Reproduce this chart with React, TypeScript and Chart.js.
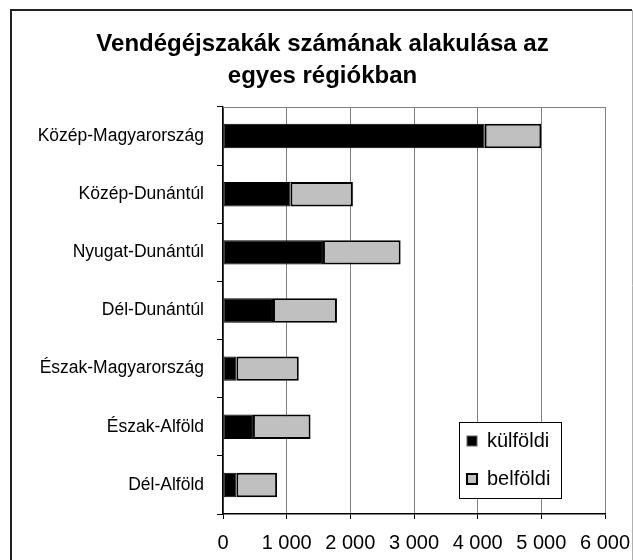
import React, { useEffect, useRef } from "react";
import { Chart, registerables } from "chart.js";

Chart.register(...registerables);

const titleLines = ["Vendégéjszakák számának alakulása az", "egyes régiókban"];
const regions = [
  "Közép-Magyarország",
  "Közép-Dunántúl",
  "Nyugat-Dunántúl",
  "Dél-Dunántúl",
  "Észak-Magyarország",
  "Észak-Alföld",
  "Dél-Alföld",
];
const kulfoldi = [4110, 1060, 1570, 785, 210, 470, 210];
const belfoldi = [890, 980, 1220, 1005, 980, 905, 640];
const seriesNames = ["külföldi", "belföldi"];
const xMin = 0;
const xMax = 6000;
const xStep = 1000;

const FONT = "Arial, 'Liberation Sans', sans-serif";

const fmt = (v: number) => {
  const s = String(Math.round(v));
  return s.replace(/\B(?=(\d{3})+(?!\d))/g, " ");
};

const framePlugin = {
  id: "frame",
  beforeDraw(chart: any) {
    const { ctx, width, height } = chart;
    ctx.save();
    ctx.fillStyle = "#fff";
    ctx.fillRect(0, 0, width, height);
    ctx.restore();
  },
  afterDraw(chart: any) {
    const { ctx, chartArea } = chart;
    ctx.save();
    // outer frame
    ctx.strokeStyle = "#222";
    ctx.lineWidth = 2;
    ctx.beginPath();
    ctx.moveTo(11, 600);
    ctx.lineTo(11, 10);
    ctx.lineTo(632, 10);
    ctx.stroke();
    ctx.strokeStyle = "#b0b0b0";
    ctx.lineWidth = 1;
    ctx.beginPath();
    ctx.moveTo(632.5, 10);
    ctx.lineTo(632.5, 600);
    ctx.stroke();
    // plot area top border
    ctx.strokeStyle = "#808080";
    ctx.lineWidth = 1;
    ctx.beginPath();
    ctx.moveTo(chartArea.left, Math.round(chartArea.top) + 0.5);
    ctx.lineTo(chartArea.right, Math.round(chartArea.top) + 0.5);
    ctx.stroke();

    // legend
    const bx = 459.5, by = 422.5, bw = 102, bh = 76;
    ctx.fillStyle = "#fff";
    ctx.fillRect(bx, by, bw, bh);
    ctx.strokeStyle = "#000";
    ctx.lineWidth = 1;
    ctx.strokeRect(bx, by, bw, bh);
    const ys = [441, 479];
    chart.data.datasets.forEach((ds: any, i: number) => {
      const cy = ys[i];
      ctx.fillStyle = ds.backgroundColor;
      ctx.fillRect(467, cy - 5, 10, 10);
      ctx.strokeStyle = i === 0 ? "#606060" : "#000";
      ctx.lineWidth = i === 0 ? 1 : 2;
      ctx.strokeRect(467, cy - 5, 10, 10);
      ctx.fillStyle = "#000";
      ctx.font = `20px ${FONT}`;
      ctx.textBaseline = "middle";
      ctx.textAlign = "left";
      ctx.fillText(ds.label, 487, cy);
    });
    ctx.restore();
  },
};

export default function App() {
  const ref = useRef<HTMLCanvasElement | null>(null);
  useEffect(() => {
    if (!ref.current) return;
    const chart = new Chart(ref.current, {
      type: "bar",
      data: {
        labels: regions,
        datasets: [
          {
            label: seriesNames[0],
            data: kulfoldi,
            backgroundColor: "#000000",
            borderColor: "#000000",
            borderWidth: 1,
            borderSkipped: false,
          },
          {
            label: seriesNames[1],
            data: belfoldi,
            backgroundColor: "#c0c0c0",
            borderColor: "#000000",
            borderWidth: 2,
            borderSkipped: false,
          },
        ],
      },
      options: {
        indexAxis: "y",
        responsive: false,
        animation: false,
        devicePixelRatio: 1,
        layout: { padding: { left: 12, right: 0, top: 0, bottom: 0 } },
        datasets: {
          bar: { categoryPercentage: 1, barPercentage: 0.42 },
        },
        plugins: {
          legend: { display: false },
          tooltip: { enabled: false },
          title: {
            display: true,
            text: titleLines,
            color: "#000",
            font: { family: FONT, size: 24, weight: "bold", lineHeight: 32 / 24 },
            padding: { top: 28, bottom: 15 },
          },
        },
        scales: {
          x: {
            stacked: true,
            min: xMin,
            max: xMax,
            ticks: {
              stepSize: xStep,
              color: "#000",
              font: { family: FONT, size: 20 },
              padding: 12,
              maxRotation: 0,
              callback: (v: any) => fmt(Number(v)),
            },
            grid: {
              color: "#808080",
              lineWidth: 1,
              tickLength: 5,
              tickColor: "#000",
            },
            border: { color: "#000", width: 1.5 },
            afterFit: (s: any) => {
              s.height = 46;
              s.paddingLeft = 0;
              s.paddingRight = 28;
            },
          },
          y: {
            stacked: true,
            ticks: {
              color: "#000",
              font: { family: FONT, size: 17.5 },
              padding: 13,
            },
            grid: {
              offset: true,
              drawOnChartArea: false,
              tickLength: 6,
              tickColor: "#000",
            },
            border: { color: "#000", width: 1.5 },
            afterFit: (s: any) => {
              s.width = 211;
            },
          },
        },
      },
      plugins: [framePlugin],
    });
    return () => chart.destroy();
  }, []);
  return (
    <div style={{ position: "absolute", left: 0, top: 0, width: 633, height: 560 }}>
      <canvas ref={ref} width={633} height={560} style={{ width: 633, height: 560, display: "block" }} />
    </div>
  );
}
